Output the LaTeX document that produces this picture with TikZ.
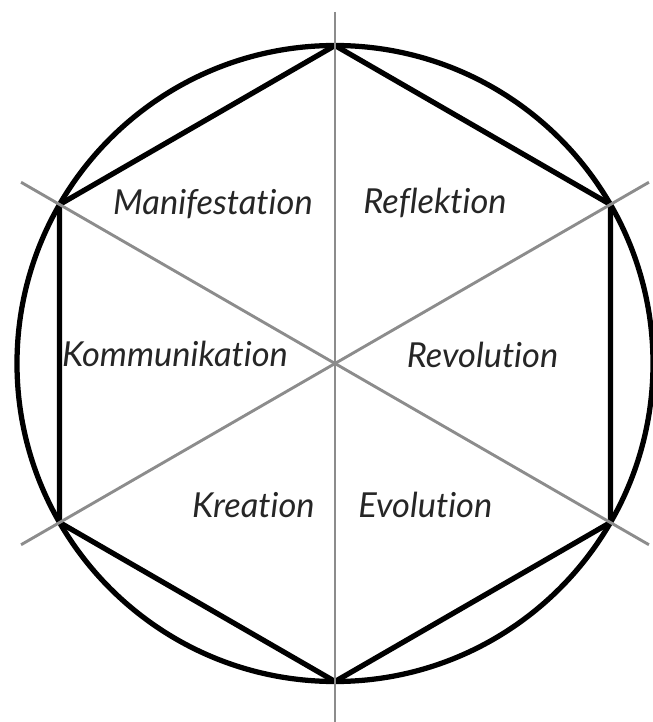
\documentclass[tikz,border=0pt]{standalone}
\usepackage{fontspec}
\setmainfont{Lato}[Ligatures={NoCommon,NoRare,NoContextual}, Contextuals=NoAlternate]
\usepackage{tikz}
\usetikzlibrary{positioning,calc}

\begin{document}
\begin{tikzpicture}[
    rim/.style={draw=black, line width=0.105cm},
    spoke/.style={draw=black!45, line width=0.058cm},
    phase/.style={text=black!85, font=\fontsize{19.6}{21}\selectfont\itshape, inner sep=0pt}
]
\useasboundingbox (-6.70,-7.17) rectangle (6.36,7.27);

% corners of the hexagon
\foreach \a/\n in {90/top, 30/upr, -30/lwr, -90/bot, -150/lwl, 150/upl}
    \coordinate (\n) at (\a:6.36);
\coordinate (mid) at (0,0);

\draw[rim] (mid) circle (6.36);
\draw[rim] (top) -- (upr) -- (lwr) -- (bot) -- (lwl) -- (upl) -- cycle;

% the three axes
\coordinate (n) at (0,7.03);
\coordinate (s) at (0,-7.17);
\foreach \a/\n in {30/ne, 150/nw, -150/sw, -30/se}
    \coordinate (\n) at (\a:7.25);
\draw[spoke] (n) -- (s);
\draw[spoke] (nw) -- (se);
\draw[spoke] (sw) -- (ne);

\node[phase, anchor=base east] (mani) at (-0.44,2.97) {Manifestation};
\node[phase, anchor=base west] (refl) at (0.56,2.99) {Reflektion};
\node[phase, anchor=base] (komm) at (-3.20,-0.07) {Kommunikation};
\node[phase, anchor=base] (revo) at (2.95,-0.09) {Revolution};
\node[phase, anchor=base east] (krea) at (-0.40,-3.07) {Kreation};
\node[phase, anchor=base west] (evol) at (0.46,-3.07) {Evolution};
\end{tikzpicture}
\end{document}
